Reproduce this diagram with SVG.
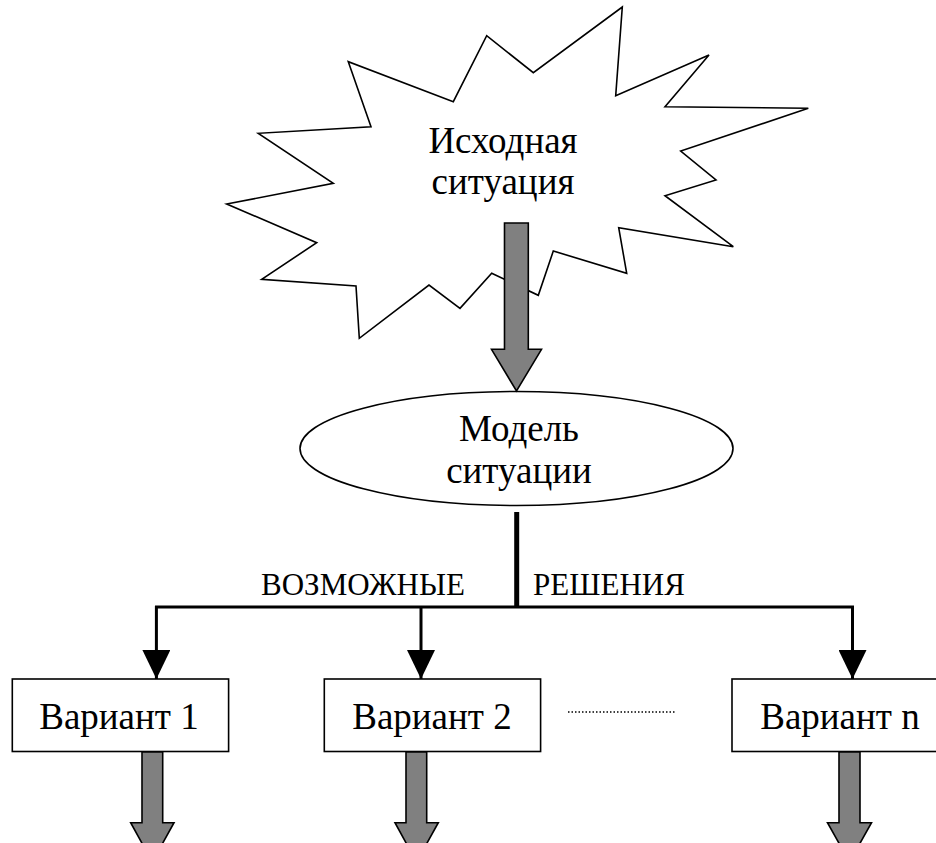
<svg xmlns="http://www.w3.org/2000/svg" width="936" height="843" viewBox="0 0 936 843">
  <style>
    .txt { font-family: "Liberation Serif", "Times New Roman", serif; fill: #000; text-anchor: middle; }
    .big { font-size: 37px; }
    .var { font-size: 37px; }
    .lbl { font-size: 31px; }
    .outline { fill: #fff; stroke: #000; stroke-width: 1.6; }
    .garrow { fill: #808080; stroke: #000; stroke-width: 1.6; stroke-linejoin: miter; }
    .conn { fill: none; stroke: #000; stroke-width: 3; }
  </style>
  <defs>
    <marker id="ah" markerUnits="userSpaceOnUse" markerWidth="30" markerHeight="28" refX="29" refY="14" orient="auto" viewBox="0 0 30 28">
      <path d="M0,0 L29,14 L0,28 Z" fill="#000"/>
    </marker>
  </defs>

  <rect width="936" height="843" fill="#fff"/>

  <g id="source-situation">
    <polygon class="outline" points="348.3,61.7 371,126.7 258.3,133.3 333.3,183.3 226.7,204 316.7,242.7 261.7,279.3 356,286 359.3,338.3 429,285 460,308.3 491.7,273.3 538.3,295.3 553.3,251 626.7,273.3 618.7,227.7 733.3,246.7 665,195.7 716,180 680.7,151 808.3,108.3 665,106.7 709,55 615.7,95.7 622.3,7 533.3,72.7 486.7,35.7 453.3,101.7"/>
    <text class="txt big" x="503" y="153">Исходная</text>
    <text class="txt big" x="503" y="194">ситуация</text>
  </g>

  <g id="model">
    <ellipse class="outline" cx="516.5" cy="448.5" rx="216.5" ry="57"/>
    <text class="txt big" x="519" y="441">Модель</text>
    <text class="txt big" x="519" y="483">ситуации</text>
  </g>

  <g id="variant-1">
    <rect class="outline" x="12.3" y="679" width="216.3" height="72.5"/>
    <text class="txt var" x="119" y="729">Вариант 1</text>
  </g>
  <g id="variant-2">
    <rect class="outline" x="324.3" y="679" width="216.3" height="72.5"/>
    <text class="txt var" x="432" y="729">Вариант 2</text>
  </g>
  <g id="variant-n">
    <rect class="outline" x="732" y="679" width="216.3" height="72.5"/>
    <text class="txt var" x="840" y="729">Вариант n</text>
  </g>

  <g id="connectors">
    <!-- main grey arrow from situation to model -->
    <path class="garrow" d="M504.5,223 L528.3,223 L528.3,349.3 L541.5,349.3 L516.5,391 L491.5,349.3 L504.5,349.3 Z"/>
    <!-- trunk and bus -->
    <line x1="516.7" y1="512" x2="516.7" y2="608" stroke="#000" stroke-width="5"/>
    <line x1="155" y1="607" x2="854" y2="607" stroke="#000" stroke-width="3"/>
    <line class="conn" x1="156.4" y1="606" x2="156.4" y2="679" marker-end="url(#ah)"/>
    <line class="conn" x1="421" y1="606" x2="421" y2="679" marker-end="url(#ah)"/>
    <line class="conn" x1="852.5" y1="606" x2="852.5" y2="679" marker-end="url(#ah)"/>
    <!-- dotted ellipsis between variants -->
    <line x1="568" y1="712" x2="676" y2="712" stroke="#000" stroke-width="1.5" stroke-dasharray="1.5,2"/>
    <!-- grey output arrows -->
    <path class="garrow" d="M142,752 L162.7,752 L162.7,822.7 L174,822.7 L152.3,862 L130.7,822.7 L142,822.7 Z"/>
    <path class="garrow" d="M406,752 L426.7,752 L426.7,822.7 L438.3,822.7 L416.5,862 L395,822.7 L406,822.7 Z"/>
    <path class="garrow" d="M839,752 L860,752 L860,822.7 L871.5,822.7 L849.5,862 L827.5,822.7 L839,822.7 Z"/>
  </g>

  <g id="labels">
    <text class="txt lbl" x="363" y="595">ВОЗМОЖНЫЕ</text>
    <text class="txt lbl" x="609" y="595">РЕШЕНИЯ</text>
  </g>
</svg>
